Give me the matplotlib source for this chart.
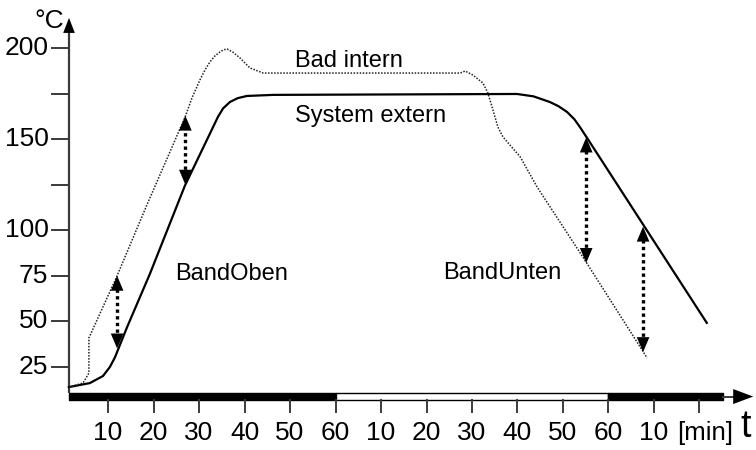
import matplotlib.pyplot as plt

plt.rcParams['font.family'] = ['Liberation Sans', 'DejaVu Sans']

# time in minutes from start, temperature in °C
system_t = [1.4, 6.0, 8.9, 10.4, 11.5, 14.2, 19.2, 26.9, 34.2, 35.3, 36.8, 38.5,
            40.5, 46.3, 99.9, 103.5, 107.1, 109.0, 110.9, 112.5, 113.7, 115.3, 141.6]
system_T = [13.8, 16.0, 19.9, 24.8, 30.0, 46.8, 76.0, 124.5, 162.5, 167.0, 170.5, 172.6,
            173.8, 174.4, 174.9, 173.6, 170.5, 168.2, 165.0, 161.0, 156.8, 150.7, 49.1]

bath_t = [1.4, 4.5, 5.8, 5.8, 12.0, 18.8, 26.9, 28.5, 30.2, 31.3, 32.4, 33.5, 34.6,
          35.4, 36.2, 37.5, 39.0, 41.2, 44.1, 46.3, 87.4, 88.5, 90.2, 92.4, 93.5,
          94.6, 95.7, 96.8, 100.6, 104.3, 114.8, 128.5]
bath_T = [13.8, 16.0, 21.5, 40.8, 75.0, 115.4, 162.0, 173.0, 182.6, 188.0, 192.5,
          195.8, 198.0, 199.2, 199.6, 197.8, 194.7, 189.2, 186.4, 186.4, 186.4, 187.5,
          185.3, 180.9, 175.4, 166.1, 156.7, 151.3, 140.3, 123.8, 83.6, 29.8]

# band arrows: position, upper end, lower end
arrow_t = [12.0, 27.0, 115.1, 127.6]
arrow_top = [75.0, 163.0, 151.0, 102.0]
arrow_bottom = [35.0, 125.0, 82.0, 33.0]

y_ticks = [200, 175, 150, 125, 100, 75, 50, 25]
y_labels = ['200', '', '150', '', '100', '75', '50', '25']
x_ticks = [10, 20, 30, 40, 50, 60, 70, 80, 90, 100, 110, 120, 130, 140]
x_labels = ['10', '20', '30', '40', '50', '60', '10', '20', '30', '40', '50', '60', '10', '']

# heating / holding / cooling phases on the time bar
phase_start = [1.43, 60, 120]
phase_len = [58.57, 60, 25.2]
phase_color = ['black', 'white', 'black']

fig = plt.figure(figsize=(7.56, 4.5), dpi=100)
ax = fig.add_axes([0, 0, 1, 1])
ax.set_xlim(-13.74, 152.42)
ax.set_ylim(-20.78, 226.55)
ax.axis('off')

axis_col = '#3a3a3a'
x0 = 1.43

# y axis with arrow
ax.plot([x0, x0], [10.5, 212], color=axis_col, lw=1.6, solid_capstyle='butt')
ax.annotate('', xy=(x0, 216.7), xytext=(x0, 205),
            arrowprops=dict(arrowstyle='-|>,head_length=0.9,head_width=0.35',
                            mutation_scale=12, color='black', lw=0,
                            shrinkA=0, shrinkB=0))
for yv, lab in zip(y_ticks, y_labels):
    ax.plot([-2.31, x0], [yv, yv], color=axis_col, lw=1.4)
    if lab:
        ax.text(-3.1, yv, lab, ha='right', va='center', fontsize=19)
ax.text(-2.9, 215.0, '°C', ha='center', va='center', fontsize=19)

# time bar with arrow
ax.broken_barh(list(zip(phase_start, phase_len)), (6.7, 3.84),
               facecolors=phase_color, edgecolor='black', lw=1.0)
ax.plot([145.2, 149], [8.6, 8.6], color=axis_col, lw=1.4)
ax.annotate('', xy=(151.8, 8.6), xytext=(146, 8.6),
            arrowprops=dict(arrowstyle='-|>,head_length=1.2,head_width=0.45',
                            mutation_scale=12, color='black', lw=0,
                            shrinkA=0, shrinkB=0))
for xv, lab in zip(x_ticks, x_labels):
    ax.plot([xv, xv], [6.7, 0.2], color=axis_col, lw=1.4)
    if lab:
        ax.text(xv, -11.2, lab, ha='center', va='center', fontsize=19)
ax.text(141.2, -11.2, '[min]', ha='center', va='center', fontsize=18.5)
ax.text(150.2, -8.3, 't', ha='center', va='center', fontsize=27)

# temperature curves
ax.plot(system_t, system_T, color='black', lw=1.6, solid_joinstyle='round')
ax.plot(bath_t, bath_T, color='#222222', lw=1.1, linestyle=(0, (1, 1)))

# double-headed dotted arrows between the curves
for t, top, bot in zip(arrow_t, arrow_top, arrow_bottom):
    ax.plot([t, t], [bot + 5, top - 5], color='black', lw=2.4,
            linestyle=(0, (1, 1)))
    for tip, base in ((top, top - 8), (bot, bot + 8)):
        ax.annotate('', xy=(t, tip), xytext=(t, base),
                    arrowprops=dict(arrowstyle='-|>,head_length=0.9,head_width=0.38',
                                    mutation_scale=12, color='black', lw=0,
                                    shrinkA=0, shrinkB=0))

ax.text(51.1, 189.7, 'Bad intern', ha='left', va='baseline', fontsize=17)
ax.text(51.1, 159.5, 'System extern', ha='left', va='baseline', fontsize=17)
ax.text(24.7, 72.7, 'BandOben', ha='left', va='baseline', fontsize=17)
ax.text(83.6, 73.2, 'BandUnten', ha='left', va='baseline', fontsize=17)

fig.savefig('out.png', dpi=100)
